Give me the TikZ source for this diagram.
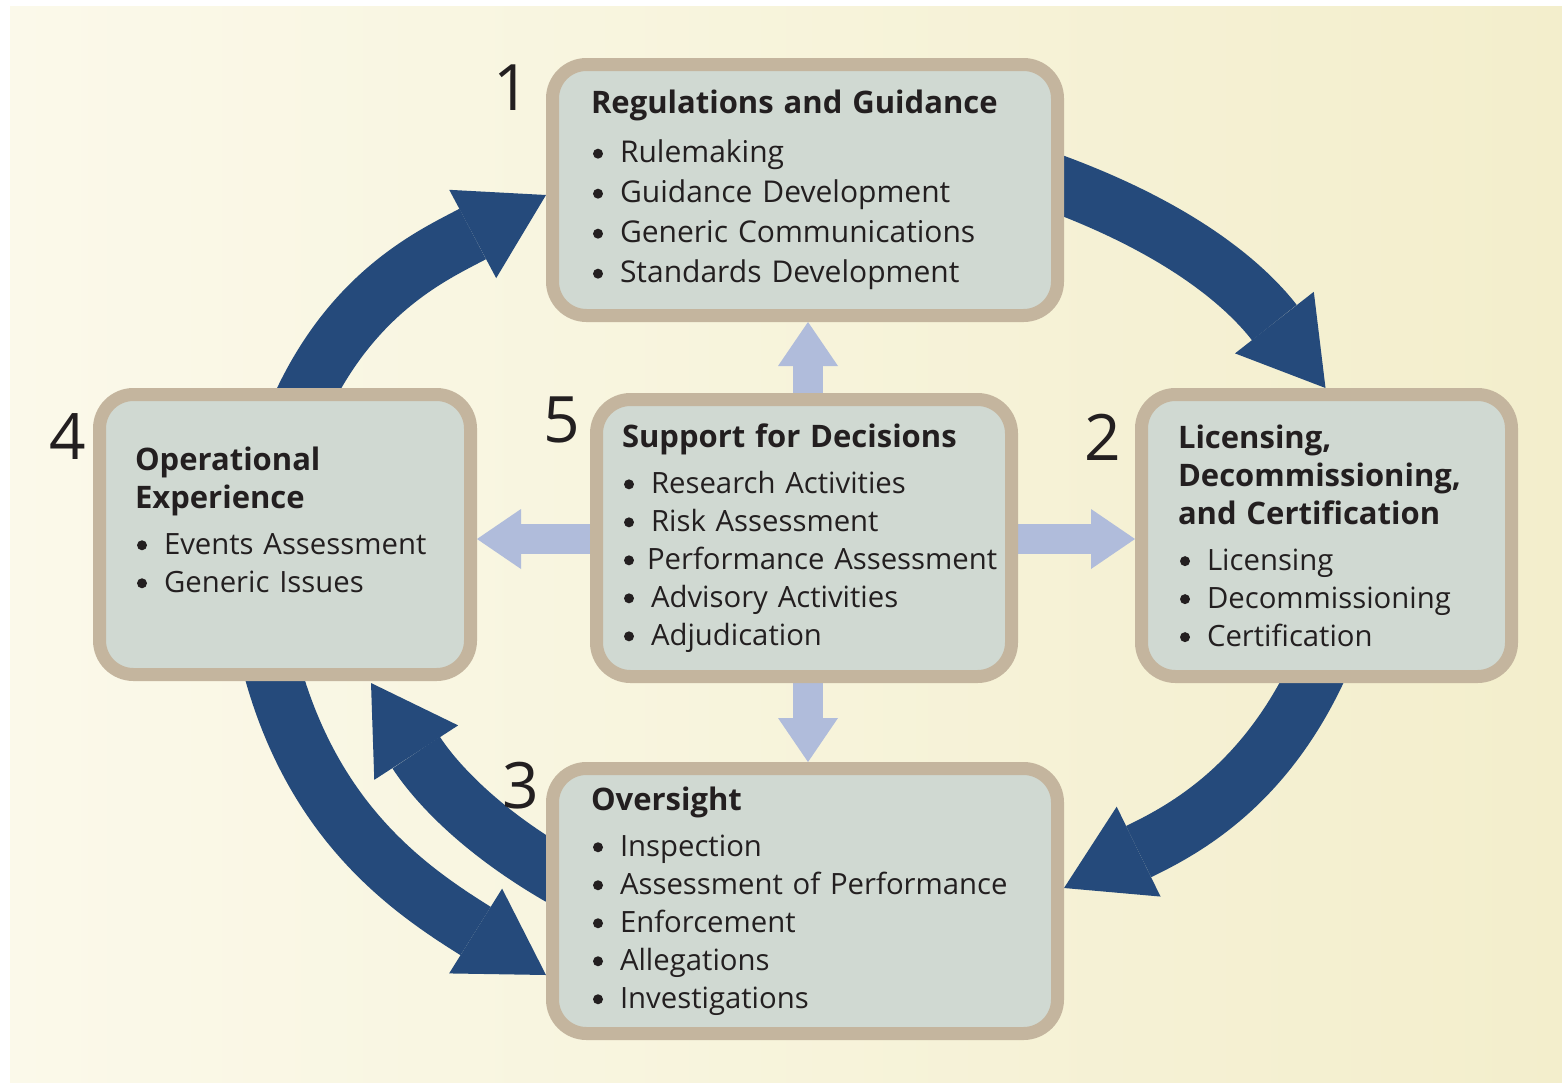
\documentclass[tikz,border=0pt]{standalone}
\usepackage{fontspec}
\setmainfont{Open Sans}
\usetikzlibrary{positioning,arrows.meta}

\definecolor{panelfill}{HTML}{D0D9D2}
\definecolor{paneledge}{HTML}{C4B59E}
\definecolor{loopblue}{HTML}{254A7B}
\definecolor{supblue}{HTML}{B0BCDB}
\definecolor{bgleft}{HTML}{FBF9EA}
\definecolor{bgright}{HTML}{F3EECC}
\definecolor{ink}{HTML}{231F20}

\newcommand{\dotmark}{\tikz[baseline=0pt]\fill[ink] (5pt,9pt) circle[radius=5pt];}
\newcommand{\itm}[2][29pt]{\mbox{\makebox[#1][l]{\hspace{2pt}\dotmark}#2}}
\newcommand{\hd}{\fontsize{31}{38}\selectfont\bfseries}

\pgfdeclarelayer{bg}
\pgfdeclarelayer{flows}
\pgfsetlayers{bg,flows,main}

\begin{document}
\begin{tikzpicture}[
  x=1pt, y=1pt,
  panel/.style={rectangle, draw=paneledge, fill=panelfill, line width=13pt, rounded corners=34pt, align=left, text=ink, font=\fontsize{29.3}{38}\selectfont, inner ysep=0pt},
  loopflow/.style={draw=loopblue, line width=57pt, -{Triangle[length=83pt, width=100pt, line width=0pt]}},
  supflow/.style={draw=supblue, line width=30pt, -{Triangle[length=44pt, width=60pt, line width=0pt]}},
  num/.style={text=ink, font=\fontsize{64}{64}\selectfont, inner sep=0pt}
]
\useasboundingbox (0,0) rectangle (1562,-1084);
\begin{pgfonlayer}{bg}
  \shade[left color=bgleft, right color=bgright] (10,-6) rectangle (1562,-1082);
\end{pgfonlayer}

% the five program areas
\node[panel, text width=428pt, inner xsep=38.5pt, minimum height=251pt, font=\fontsize{30}{40}\selectfont] (reg) at (805,-190)
  {{\hd Regulations and Guidance}\\[9pt]
   \itm{Rulemaking}\\ \itm{Guidance Development}\\ \itm{Generic Communications}\\ \itm{Standards Development}};
\node[panel, text width=364pt, inner xsep=25.5pt, minimum height=277pt] (sup) at (804,-538)
  {{\hd Support for Decisions}\\[8pt]
   \itm{Research Activities}\\ \itm{Risk Assessment}\\ \itm[25pt]{Performance Assessment}\\ \itm{Advisory Activities}\\ \itm{Adjudication}};
\node[panel, text width=300pt, inner xsep=35.5pt, minimum height=280pt] (ope) at (285,-534.5)
  {{\hd Operational\\Experience}\\[8pt]
   \itm{Events Assessment}\\ \itm{Generic Issues}\\[-8pt]\mbox{}};
\node[panel, text width=297pt, inner xsep=36.5pt, minimum height=282pt] (lic) at (1326.5,-535.5)
  {{\hd Licensing,\\Decommissioning,\\and Certification}\\[8pt]
   \itm{Licensing}\\ \itm{Decommissioning}\\ \itm{Certification}};
\node[panel, text width=428pt, inner xsep=38.5pt, minimum height=265pt] (ove) at (805,-901)
  {{\hd Oversight}\\[8pt]
   \itm{Inspection}\\ \itm{Assessment of Performance}\\ \itm{Enforcement}\\ \itm{Allegations}\\ \itm{Investigations}};

% step numbers
\node[num] (n1) at ([xshift=-34pt,yshift=-30pt]reg.north west) {1};
\node[num] (n2) at ([xshift=-32pt,yshift=-49pt]lic.north west) {2};
\node[num] (n3) at ([xshift=-25pt,yshift=-24pt]ove.north west) {3};
\node[num] (n4) at ([xshift=-25pt,yshift=-49pt]ope.north west) {4};
\node[num] (n5) at ([xshift=-28pt,yshift=-27pt]sup.north west) {5};

\begin{pgfonlayer}{flows}
  % the cycle
  \draw[loopflow] ([xshift=16pt,yshift=-16pt]ope.north) to[out=65, in=208] ([yshift=-5pt]reg.west);
  \draw[loopflow] ([xshift=-14pt,yshift=9pt]reg.east) to[out=-20, in=128] ([xshift=-1pt]lic.north);
  \draw[loopflow] ([xshift=-8pt,yshift=14pt]lic.south) to[out=245, in=26] ([yshift=13pt]ove.east);
  \draw[loopflow] ([xshift=14pt,yshift=24pt]ove.west) to[out=150, in=-57] ([xshift=86pt,yshift=-2pt]ope.south);
  \draw[loopflow] ([xshift=-14pt,yshift=15pt]ope.south) to[out=-75, in=148] ([yshift=-74pt]ove.west);
  % support links
  \draw[supflow] ([xshift=4pt,yshift=-10pt]sup.north) -- ([xshift=4pt]sup.north |- reg.south);
  \draw[supflow] ([xshift=4pt,yshift=10pt]sup.south) -- ([xshift=4pt]sup.south |- ove.north);
  \draw[supflow] ([xshift=10pt,yshift=-1pt]sup.west) -- ([yshift=-1pt]sup.west -| ope.east);
  \draw[supflow] ([xshift=-10pt,yshift=-1pt]sup.east) -- ([yshift=-1pt]sup.east -| lic.west);
\end{pgfonlayer}
\end{tikzpicture}
\end{document}
